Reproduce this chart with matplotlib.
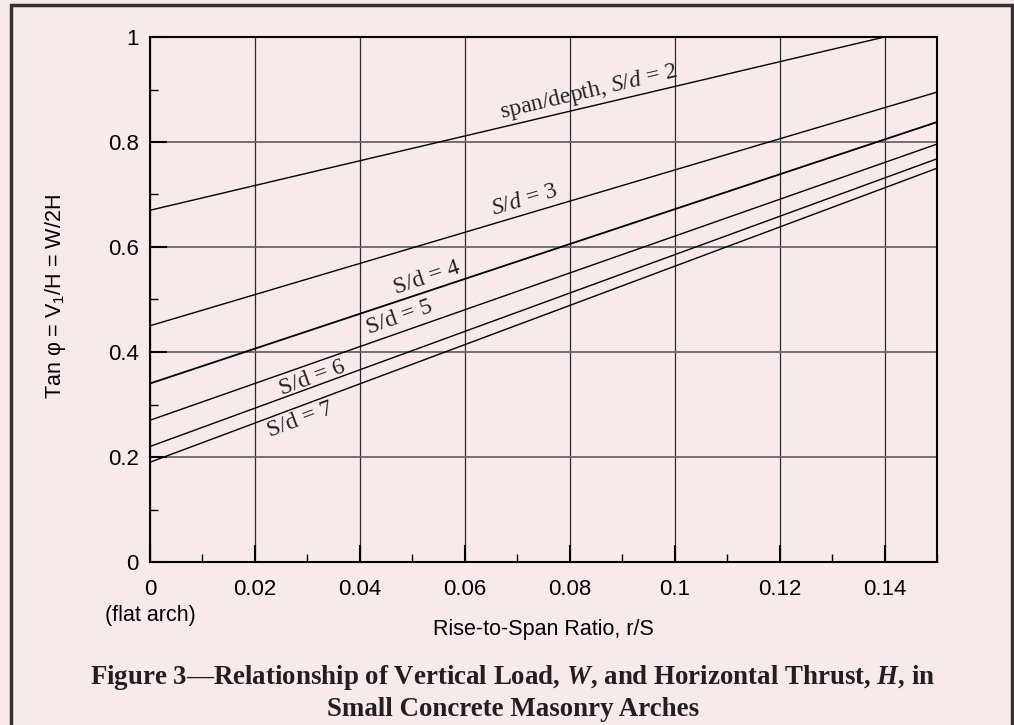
import numpy as np
import matplotlib
matplotlib.use("Agg")
import matplotlib.pyplot as plt
from matplotlib.patches import Rectangle
from matplotlib.ticker import MultipleLocator

plt.rcParams['font.family'] = ['Liberation Sans', 'DejaVu Sans']
plt.rcParams['mathtext.fontset'] = 'custom'
plt.rcParams['mathtext.rm'] = 'Liberation Sans'
plt.rcParams['mathtext.it'] = 'Liberation Serif:italic'
plt.rcParams['mathtext.bf'] = 'Liberation Serif:bold'
plt.rcParams['mathtext.bfit'] = 'Liberation Serif:italic:bold'

# data: tan(phi) vs rise-to-span ratio r/S
ratios = [2, 3, 4, 5, 6, 7]
x_start = [0.0, 0.0, 0.0, 0.0, 0.0, 0.0]
x_end = [0.14, 0.15, 0.15, 0.15, 0.15, 0.15]
y_start = [0.67, 0.45, 0.34, 0.27, 0.22, 0.19]
y_end = [1.00, 0.895, 0.838, 0.796, 0.768, 0.750]
labels = ['span/depth, $\\mathit{S}$/$\\mathit{d}$ = 2',
          '$\\mathit{S}$/$\\mathit{d}$ = 3', 'S/d = 4',
          'S/d = 5', 'S/d = 6', 'S/d = 7']

x_ticks = [0, 0.02, 0.04, 0.06, 0.08, 0.1, 0.12, 0.14]
x_ticklabels = ['0', '0.02', '0.04', '0.06', '0.08', '0.1', '0.12', '0.14']
y_ticks = [0, 0.2, 0.4, 0.6, 0.8, 1.0]
y_ticklabels = ['0', '0.2', '0.4', '0.6', '0.8', '1']

# where each curve label sits (data coords)
label_pos = [(0.0836, 0.895), (0.0714, 0.690), (0.0528, 0.541),
             (0.0476, 0.465), (0.0309, 0.350), (0.0286, 0.270)]

bg = '#f8eaea'
W, H = 1014, 725
fig = plt.figure(figsize=(W / 100, H / 100), dpi=100, facecolor=bg)
ax = fig.add_axes([150 / W, 1 - 562 / H, (937 - 150) / W, (562 - 37) / H])
ax.set_facecolor(bg)
ax.set_xlim(0, 0.15)
ax.set_ylim(0, 1)

for i in range(len(ratios)):
    ax.plot([x_start[i], x_end[i]], [y_start[i], y_end[i]], color='black',
            lw=1.3 if ratios[i] == 4 else 1.0, solid_capstyle='butt', zorder=3)

ax.set_xticks(x_ticks)
ax.set_xticklabels(x_ticklabels)
ax.set_yticks(y_ticks)
ax.set_yticklabels(y_ticklabels)
ax.xaxis.set_minor_locator(MultipleLocator(0.01))
ax.yaxis.set_minor_locator(MultipleLocator(0.1))
ax.tick_params(which='major', direction='in', length=12, width=1.5,
               labelsize=16, colors='black')
ax.tick_params(axis='x', which='major', pad=12)
ax.tick_params(axis='y', which='major', pad=8)
ax.tick_params(which='minor', direction='in', length=6, width=1.0)
ax.xaxis.grid(True, which='major', color='#2a2a2a', lw=0.9, zorder=1)
ax.yaxis.grid(True, which='major', color='#666666', lw=1.3, zorder=1)
for s in ax.spines.values():
    s.set_linewidth(1.5)
    s.set_zorder(4)

fig.canvas.draw()
for i in range(len(ratios)):
    p0 = ax.transData.transform((x_start[i], y_start[i]))
    p1 = ax.transData.transform((x_end[i], y_end[i]))
    ang = np.degrees(np.arctan2(p1[1] - p0[1], p1[0] - p0[0]))
    lx, ly = label_pos[i]
    ax.text(lx, ly, labels[i], rotation=ang, rotation_mode='anchor',
            ha='center', va='center', fontsize=17, color='#222222',
            family=['Liberation Serif', 'DejaVu Serif'], zorder=5)

ax.text(0, -0.102, '(flat arch)', transform=ax.get_xaxis_transform(),
        ha='center', va='center', fontsize=15.5)

fig.text(543 / W, 1 - 629 / H, 'Rise-to-Span Ratio, r/S', ha='center',
         va='center', fontsize=15.5)
fig.text(55 / W, 1 - 297 / H, 'Tan \u03c6 = V$_{\\mathrm{1}}$/H = W/2H',
         rotation=90, ha='center', va='center', fontsize=15.5)

cap_kw = dict(ha='center', va='center', fontsize=19.4, fontweight='bold',
              color='#231f20', family=['Liberation Serif', 'DejaVu Serif'])
fig.text(513 / W, 1 - 678 / H,
         'Figure 3\u2014Relationship of Vertical Load, $\\mathbfit{W}$, and '
         'Horizontal Thrust, $\\mathbfit{H}$, in', **cap_kw)
fig.text(513 / W, 1 - 710 / H, 'Small Concrete Masonry Arches', **cap_kw)

frame = Rectangle((11 / W, -0.1), (1012 - 11) / W, 1.1 - 5 / H,
                  transform=fig.transFigure, fill=False, ec='#333333', lw=2.5)
fig.add_artist(frame)

fig.savefig('out.png', dpi=100, facecolor=bg)
